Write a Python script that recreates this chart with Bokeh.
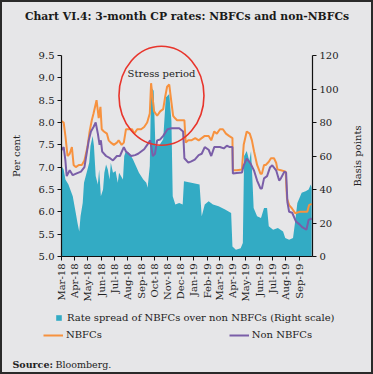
import math
import pandas as pd
from bokeh.plotting import figure
from bokeh.models import (LinearAxis, Range1d, FixedTicker, DatetimeTickFormatter,
                          NumeralTickFormatter, Legend, LegendItem, Label)
from bokeh.embed import file_html
from bokeh.resources import INLINE

FONT = "DejaVu Serif"
BG = "#e6e6e8"
TEAL = "#33abc4"
ORANGE = "#f7923f"
PURPLE = "#7a5ea8"
RED = "#e8352c"
INK = "#222222"

# ---------------- data ----------------
nbfc_dates = ["2018-03-01", "2018-03-06", "2018-03-10", "2018-03-15", "2018-03-20", "2018-03-25",
              "2018-03-29", "2018-04-03", "2018-04-10", "2018-04-17", "2018-04-23", "2018-04-30",
              "2018-05-05", "2018-05-10", "2018-05-14", "2018-05-21", "2018-05-26", "2018-05-30",
              "2018-06-02", "2018-06-07", "2018-06-14", "2018-06-18", "2018-06-23", "2018-06-30",
              "2018-07-07", "2018-07-11", "2018-07-18", "2018-07-23", "2018-07-28", "2018-08-04",
              "2018-08-11", "2018-08-16", "2018-08-23", "2018-09-01", "2018-09-08", "2018-09-15",
              "2018-09-21", "2018-09-24", "2018-09-27", "2018-10-01", "2018-10-08", "2018-10-15",
              "2018-10-22", "2018-10-27", "2018-10-31", "2018-11-05", "2018-11-10", "2018-11-14",
              "2018-11-18", "2018-11-23", "2018-12-02", "2018-12-10", "2018-12-13", "2018-12-19",
              "2018-12-26", "2019-01-04", "2019-01-12", "2019-01-19", "2019-01-26", "2019-02-04",
              "2019-02-10", "2019-02-17", "2019-02-23", "2019-03-02", "2019-03-09", "2019-03-16",
              "2019-03-23", "2019-03-31", "2019-04-01", "2019-04-10", "2019-04-22", "2019-04-26",
              "2019-05-03", "2019-05-10", "2019-05-15", "2019-05-20", "2019-05-27", "2019-06-04",
              "2019-06-07", "2019-06-12", "2019-06-16", "2019-06-23", "2019-06-28", "2019-07-05",
              "2019-07-10", "2019-07-13", "2019-07-21", "2019-08-01", "2019-08-04", "2019-08-09",
              "2019-08-16", "2019-08-23", "2019-09-02", "2019-09-13", "2019-09-20", "2019-09-24",
              "2019-09-30"]
nbfc_rates = [8.03, 8.00, 7.70, 7.25, 7.30, 7.45,
              7.05, 7.00, 7.05, 7.05, 7.15, 7.45,
              7.80, 8.05, 8.20, 8.50, 8.10, 8.35,
              7.85, 7.80, 7.75, 7.60, 7.55, 7.50,
              7.55, 7.60, 7.50, 7.55, 7.85, 7.85,
              7.85, 7.75, 7.85, 7.85, 7.90, 8.00,
              8.20, 8.88, 8.60, 8.25, 8.15, 8.25,
              8.30, 8.60, 8.80, 8.85, 8.45, 8.15,
              8.10, 8.05, 8.05, 8.05, 7.55, 7.60,
              7.60, 7.65, 7.60, 7.65, 7.70, 7.70,
              7.60, 7.80, 7.75, 7.85, 7.85, 7.75,
              7.70, 7.65, 6.93, 6.93, 6.95, 7.50,
              7.80, 7.75, 7.60, 7.35, 7.05, 6.85,
              6.85, 7.05, 7.05, 7.12, 7.20, 7.20,
              7.10, 6.95, 6.93, 6.90, 6.30, 6.15,
              6.07, 5.97, 6.00, 6.00, 6.00, 6.15,
              6.18]

non_dates = ["2018-03-01", "2018-03-06", "2018-03-10", "2018-03-13", "2018-03-20", "2018-03-27",
             "2018-04-05", "2018-04-15", "2018-04-23", "2018-04-28", "2018-05-03", "2018-05-08",
             "2018-05-14", "2018-05-19", "2018-05-24", "2018-05-28", "2018-05-31", "2018-06-03",
             "2018-06-12", "2018-06-21", "2018-06-28", "2018-07-07", "2018-07-14", "2018-07-23",
             "2018-07-28", "2018-08-09", "2018-08-18", "2018-08-25", "2018-09-01", "2018-09-08",
             "2018-09-15", "2018-09-22", "2018-09-28", "2018-10-03", "2018-10-08", "2018-10-15",
             "2018-10-22", "2018-11-01", "2018-11-10", "2018-11-28", "2018-12-07", "2018-12-10",
             "2018-12-19", "2018-12-26", "2019-01-03", "2019-01-12", "2019-01-19", "2019-01-26",
             "2019-02-04", "2019-02-10", "2019-02-17", "2019-02-25", "2019-03-02", "2019-03-11",
             "2019-03-18", "2019-03-25", "2019-03-31", "2019-04-01", "2019-04-10", "2019-04-22",
             "2019-04-26", "2019-05-03", "2019-05-12", "2019-05-20", "2019-05-27", "2019-06-04",
             "2019-06-07", "2019-06-12", "2019-06-19", "2019-06-26", "2019-07-01", "2019-07-10",
             "2019-07-17", "2019-07-21", "2019-07-29", "2019-08-02", "2019-08-05", "2019-08-09",
             "2019-08-16", "2019-08-25", "2019-09-02", "2019-09-09", "2019-09-18", "2019-09-23",
             "2019-09-30"]
non_rates = [7.38, 7.45, 7.15, 6.80, 6.93, 6.82,
             6.86, 6.90, 7.00, 7.30, 7.60, 7.80,
             7.90, 8.00, 7.75, 7.50, 7.60, 7.35,
             7.25, 7.20, 7.15, 7.25, 7.25, 7.45,
             7.35, 7.25, 7.27, 7.30, 7.35, 7.40,
             7.50, 7.60, 7.25, 7.30, 7.60, 7.62,
             7.70, 7.85, 7.87, 7.87, 7.80, 7.20,
             7.10, 7.13, 7.17, 7.27, 7.30, 7.45,
             7.39, 7.25, 7.45, 7.45, 7.45, 7.42,
             7.48, 7.45, 7.45, 6.86, 6.87, 6.88,
             7.04, 7.19, 7.08, 6.92, 6.70, 6.52,
             6.52, 6.75, 6.80, 7.00, 7.04, 6.93,
             6.70, 6.75, 6.90, 6.88, 6.22, 6.00,
             5.98, 5.78, 5.72, 5.65, 5.60, 5.82,
             5.85]

spread_dates = ["2018-03-01", "2018-03-06", "2018-03-10", "2018-03-17", "2018-03-27", "2018-04-03",
                "2018-04-07", "2018-04-11", "2018-04-14", "2018-04-19", "2018-04-22", "2018-04-30",
                "2018-05-04", "2018-05-07", "2018-05-12", "2018-05-15", "2018-05-19", "2018-05-24",
                "2018-05-27", "2018-05-31", "2018-06-05", "2018-06-08", "2018-06-12", "2018-06-16",
                "2018-06-20", "2018-06-23", "2018-06-28", "2018-07-04", "2018-07-09", "2018-07-12",
                "2018-07-21", "2018-07-24", "2018-07-28", "2018-08-04", "2018-08-13", "2018-08-20",
                "2018-08-27", "2018-09-06", "2018-09-13", "2018-09-16", "2018-09-21", "2018-09-24",
                "2018-09-30", "2018-10-04", "2018-10-12", "2018-10-22", "2018-10-28", "2018-11-05",
                "2018-11-10", "2018-11-13", "2018-11-19", "2018-11-28", "2018-12-06", "2018-12-09",
                "2018-12-26", "2019-01-14", "2019-01-19", "2019-01-26", "2019-02-04", "2019-02-14",
                "2019-02-27", "2019-03-14", "2019-03-28", "2019-03-31", "2019-04-08", "2019-04-19",
                "2019-04-24", "2019-04-27", "2019-05-03", "2019-05-09", "2019-05-13", "2019-05-16",
                "2019-05-19", "2019-05-27", "2019-06-05", "2019-06-12", "2019-06-19", "2019-06-23",
                "2019-07-03", "2019-07-14", "2019-07-26", "2019-07-31", "2019-08-09", "2019-08-18",
                "2019-08-23", "2019-08-28", "2019-09-07", "2019-09-16", "2019-09-23", "2019-09-28",
                "2019-09-30"]
spread_bp = [54, 52, 46, 43, 36, 26,
             20, 15, 24, 32, 44, 52,
             56, 66, 72, 66, 48, 43,
             52, 36, 40, 50, 55, 52,
             46, 56, 50, 51, 44, 50,
             46, 60, 63, 62, 58, 54,
             50, 46, 44, 41, 54, 101,
             99, 66, 66, 70, 95, 97,
             81, 36, 31, 32, 31, 45,
             44, 43, 24, 31, 33, 31,
             30, 28, 26, 6, 4, 5,
             8, 60, 63, 57, 63, 47,
             29, 24, 23, 29, 29, 18,
             16, 17, 15, 11, 10, 11,
             21, 32, 38, 39, 40, 43,
             41]

rate_ticks = [5.0, 5.5, 6.0, 6.5, 7.0, 7.5, 8.0, 8.5, 9.0, 9.5]
bp_ticks = [0, 20, 40, 60, 80, 100, 120]
month_ticks = pd.date_range("2018-03-01", "2019-09-01", freq="MS")
annot_date = pd.Timestamp("2018-10-18")

# ---------------- layout (canvas pixels) ----------------
W, H = 373, 374
FL, FR, FT, FB = 61, 312, 55, 256          # box of the axes on the canvas
X0, X1 = pd.Timestamp("2018-03-01"), pd.Timestamp("2019-10-02")
R0, R1 = 5.0, 9.5
B0, B1 = 0, 120
dpp = (X1 - X0) / (FR - FL)
vpp = (R1 - R0) / (FB - FT)
bpp = (B1 - B0) / (FB - FT)

def ms(ts):
    return ts.value // 10**6

p = figure(width=W, height=H, x_axis_type="datetime",
           x_range=Range1d(X0 - dpp * FL, X1 + dpp * (W - FR)),
           y_range=Range1d(R0 - vpp * (H - FB), R1 + vpp * FT),
           output_backend="svg", toolbar_location=None,
           min_border=0, min_border_left=0, min_border_right=0,
           min_border_top=0, min_border_bottom=0,
           background_fill_color=BG, border_fill_color=BG,
           outline_line_color="#2a2a2a", outline_line_width=3)
p.extra_y_ranges = {"bp": Range1d(B0 - bpp * (H - FB), B1 + bpp * FT)}
p.xgrid.visible = False
p.ygrid.visible = False

def style_axis(ax):
    ax.axis_line_color = "#111111"
    ax.axis_line_width = 1.2
    ax.major_tick_line_color = "#111111"
    ax.major_tick_in = 0
    ax.major_tick_out = 4
    ax.minor_tick_line_color = None
    ax.major_label_text_font = FONT
    ax.major_label_text_font_size = "10px"
    ax.major_label_text_color = INK
    ax.major_label_standoff = 3

yl = p.yaxis[0]
yl.ticker = FixedTicker(ticks=rate_ticks)
yl.formatter = NumeralTickFormatter(format="0.0")
yl.bounds = (R0, R1)
yl.fixed_location = ms(X0)
style_axis(yl)

yr = LinearAxis(y_range_name="bp", ticker=FixedTicker(ticks=bp_ticks), bounds=(B0, B1),
                fixed_location=ms(X1))
style_axis(yr)
p.add_layout(yr, "right")

xa = p.xaxis[0]
xa.ticker = FixedTicker(ticks=[ms(t) for t in month_ticks])
fmt = "%b-%y"
xa.formatter = DatetimeTickFormatter(months=fmt, days=fmt, years=fmt, hours=fmt,
                                     minutes=fmt, seconds=fmt, milliseconds=fmt,
                                     microseconds=fmt, minsec=fmt, hourmin=fmt)
xa.bounds = (ms(X0), ms(X1))
xa.fixed_location = R0
style_axis(xa)
xa.major_label_orientation = math.pi / 2

# ---------------- glyphs ----------------
r_spread = p.varea(x=pd.to_datetime(spread_dates), y1=[0] * len(spread_bp), y2=spread_bp,
                   y_range_name="bp", fill_color=TEAL)
r_nbfc = p.line(pd.to_datetime(nbfc_dates), nbfc_rates, line_color=ORANGE, line_width=2)
r_non = p.line(pd.to_datetime(non_dates), non_rates, line_color=PURPLE, line_width=2)

p.ellipse(x=[annot_date], y=[8.60], width=85, height=99, width_units="screen",
          height_units="screen", fill_alpha=0, line_color=RED, line_width=1.6)
p.add_layout(Label(x=annot_date, y=9.10, text="Stress period", text_align="center",
                   text_baseline="middle", text_font=FONT, text_font_size="10px",
                   text_color=INK))

# ---------------- texts (screen px from the canvas bottom-left) ----------------
def slabel(x, y, text, **kw):
    opts = dict(x=x, y=y, x_units="screen", y_units="screen", text=text,
                text_font=FONT, text_font_size="10px", text_color=INK,
                text_baseline="middle")
    opts.update(kw)
    p.add_layout(Label(**opts))

slabel(186.5, H - 16, "Chart VI.4: 3-month CP rates: NBFCs and non-NBFCs",
       text_align="center", text_font_style="bold", text_color="#1a1a1a",
       text_font_size="10.8px")
slabel(16, H - 155.5, "Per cent", text_align="center", angle=math.pi / 2)
slabel(356.5, H - 155.5, "Basis points", text_align="center", angle=math.pi / 2)
slabel(12, H - 364, "Source:", text_font_style="bold", text_align="left",
       text_font_size="9.5px")
slabel(55, H - 364, "Bloomberg.", text_align="left", text_font_size="9.5px")

common = dict(padding=0, margin=0, border_line_color=None, background_fill_alpha=0,
              label_text_font=FONT, label_text_font_size="10px", label_text_color=INK,
              orientation="horizontal")
leg1 = Legend(items=[LegendItem(label="Rate spread of NBFCs over non NBFCs (Right scale)",
                                renderers=[r_spread])],
              location=(55, H - 319.5 - 3.5), glyph_width=7, glyph_height=7, label_height=7,
              label_standoff=5, **common)
leg2 = Legend(items=[LegendItem(label="NBFCs", renderers=[r_nbfc]),
                     LegendItem(label="Non NBFCs", renderers=[r_non])],
              location=(43, H - 334.5 - 6), glyph_width=20, glyph_height=12, label_height=12,
              label_standoff=3, spacing=127, **common)
p.add_layout(leg1)
p.add_layout(leg2)

open("out.html", "w").write(file_html(p, INLINE))
